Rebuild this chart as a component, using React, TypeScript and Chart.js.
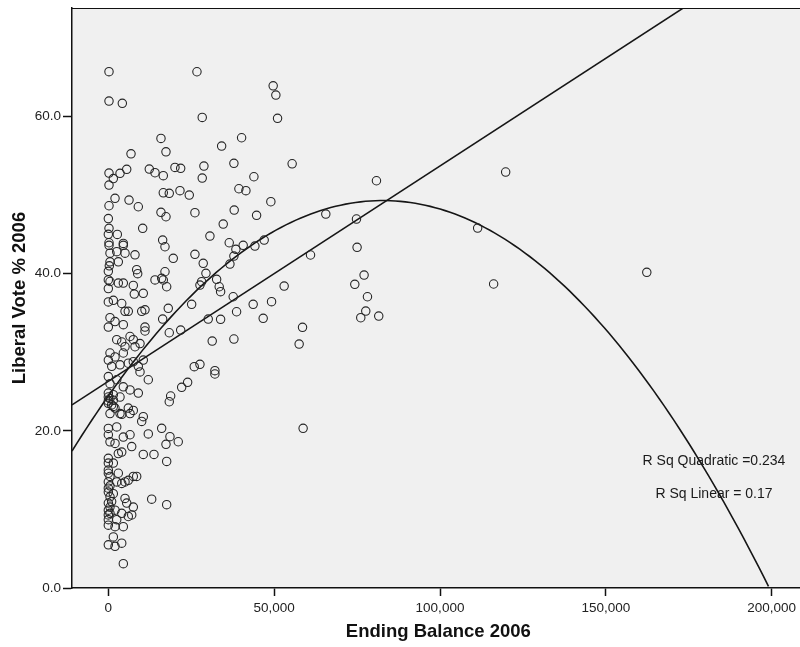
import React, { useEffect, useRef } from "react";
import { Chart, registerables } from "chart.js";

Chart.register(...registerables);

// Ending Balance 2006 (x) and Liberal Vote % 2006 (y)
const balanceUpper = [200, 200, 4217, 15870, 17380, 6837, 200, 5542, 3524, 1506, 200, 12350, 14070, 16570, 2018, 200, 6235, 9036, 16570, 15870, 17380, 200, 2711, 10360, 200, 4518, 16380, 0, 0, 300, 0];
const voteUpper = [65.7, 61.96, 61.67, 57.2, 55.5, 55.25, 52.8, 53.27, 52.76, 52.1, 51.27, 53.3, 52.84, 52.46, 49.58, 48.64, 49.36, 48.51, 50.29, 47.8, 47.24, 45.76, 44.99, 45.76, 43.93, 43.85, 44.27, 47.0, 45.0, 41.0, 40.3];

const balanceMid = [26720, 49700, 50510, 28310, 51020, 40180, 34160, 55420, 37860, 20090, 21810, 28820, 28310, 43890, 39370, 41480, 21600, 18370, 24400, 49000, 37950, 26110, 44700, 34640, 30630, 17080, 36450, 40660, 44190, 46990, 38460, 37860, 26110, 19580];
const voteMid = [65.69, 63.9, 62.72, 59.88, 59.76, 57.29, 56.23, 53.98, 54.03, 53.52, 53.4, 53.69, 52.16, 52.33, 50.8, 50.55, 50.55, 50.22, 50.0, 49.15, 48.09, 47.75, 47.42, 46.31, 44.78, 43.42, 43.93, 43.6, 43.51, 44.27, 43.09, 42.24, 42.46, 41.95];

const balanceLow = [28610, 36660, 17080, 29430, 16570, 28130, 27620, 32650, 33430, 33850, 17590, 53010, 25120, 37650, 18070, 43670, 49210, 38670, 16380, 30120, 33850, 46690, 18370, 21810, 58550, 57530, 31320, 37860, 25900, 27620, 32130, 32130, 23910, 22110, 18790, 18370, 58730, 16080, 18580, 21080, 17380];
const voteLow = [41.31, 41.22, 40.24, 40.04, 39.19, 38.97, 38.55, 39.27, 38.33, 37.7, 38.33, 38.42, 36.09, 37.06, 35.59, 36.09, 36.43, 35.15, 34.22, 34.22, 34.19, 34.31, 32.48, 32.82, 33.17, 31.04, 31.42, 31.68, 28.16, 28.46, 27.65, 27.23, 26.17, 25.53, 24.43, 23.7, 20.32, 20.32, 19.25, 18.61, 18.28];

const balanceRight = [80840, 65570, 74820, 60960, 75000, 77110, 74310, 78130, 77620, 76110, 81530, 111350, 119800, 116170, 162350];
const voteRight = [51.82, 47.58, 46.95, 42.37, 43.35, 39.82, 38.64, 37.06, 35.24, 34.39, 34.6, 45.8, 52.93, 38.68, 40.17];

const balanceColumnA = [200, 4520, 500, 2530, 5030, 8040, 500, 3010, 8550, 8850, 0, 500, 3010, 4520, 7530, 10540, 7830, 14070, 16080, 0, 0, 1510, 4040, 5030, 6020, 10060, 11050, 500, 0, 2020, 4520, 11050, 11050, 2530, 4040, 5030, 6540, 7530, 8040, 9550, 4520, 500, 2020, 0, 1020, 3520, 6020, 7530, 9040, 10540, 9550, 12050, 0, 500, 2530, 4520, 6540, 9040, 0, 1510, 3520, 0, 1510, 500, 3520, 6020, 7530, 6540, 10540, 0, 500, 1000, 1500, 0, 2000];
const voteColumnA = [43.6, 43.6, 42.6, 42.8, 42.6, 42.4, 41.5, 41.5, 40.5, 40.0, 39.2, 39.0, 38.8, 38.8, 38.5, 37.5, 37.4, 39.2, 39.4, 38.1, 36.4, 36.6, 36.2, 35.2, 35.2, 35.2, 35.4, 34.4, 33.2, 33.9, 33.5, 33.2, 32.7, 31.6, 31.3, 30.7, 32.0, 31.6, 30.7, 31.1, 29.9, 29.9, 29.4, 29.0, 28.2, 28.4, 28.6, 28.8, 28.2, 29.0, 27.5, 26.5, 26.9, 26.0, 26.5, 25.6, 25.2, 24.8, 24.3, 23.9, 24.3, 23.5, 23.1, 22.2, 22.2, 22.9, 22.6, 22.2, 21.8, 23.8, 24.1, 23.3, 24.6, 24.8, 22.9];

const balanceColumnB = [4040, 10060, 12050, 0, 0, 2530, 500, 2020, 4520, 6540, 7050, 4040, 10540, 13760, 17590, 0, 0, 0, 500, 0, 0, 1510, 3010, 3010, 2530, 4040, 5030, 6020, 7530, 8550, 500, 0, 5030, 5540, 7530, 6020, 7050, 13070, 17590, 0, 0, 0, 0, 500, 2020, 2530, 4040, 2020, 4520, 1510, 0, 2020, 4040, 4520, 0, 500, 1000, 0, 1500, 500];
const voteColumnB = [22.1, 21.2, 19.6, 20.3, 19.5, 20.5, 18.6, 18.4, 19.2, 19.5, 18.0, 17.3, 17.0, 17.0, 16.1, 16.5, 15.9, 15.0, 14.2, 13.5, 12.7, 15.9, 17.1, 14.6, 13.5, 13.3, 13.5, 13.7, 14.2, 14.2, 11.6, 10.8, 11.4, 10.8, 10.3, 9.1, 9.3, 11.3, 10.6, 9.9, 9.3, 8.7, 8.0, 9.5, 9.9, 8.7, 9.5, 7.8, 7.8, 6.5, 5.5, 5.3, 5.7, 3.1, 12.2, 13.0, 11.0, 14.6, 12.0, 10.3];

// Axis settings and tick labels
const X_MIN = -10955;
const X_MAX = 209960;
const Y_MIN = 0;
const Y_MAX = 73.8;
const xTickValues = [0, 50000, 100000, 150000, 200000];
const yTickValues = [0, 20, 40, 60];

// Fit lines (coefficients)
const LINEAR_B0 = 26.3;
const LINEAR_B1 = 0.000274;
const QUAD_B0 = 24.44;
const QUAD_B1 = 6.008e-4;
const QUAD_B2 = -3.63e-9;
const QUAD_X_END = 200500;
const fitLabels = ["R Sq Quadratic =0.234", "R Sq Linear = 0.17"];

const FONT = "'Liberation Sans', Arial, sans-serif";

function zip(xs: number[], ys: number[]) {
  return xs.map((x, i) => ({ x, y: ys[i] }));
}

function zeroPadding(s: any) {
  s.paddingLeft = 0;
  s.paddingRight = 0;
  s.paddingTop = 0;
  s.paddingBottom = 0;
}

export default function App() {
  const ref = useRef<HTMLCanvasElement | null>(null);

  useEffect(() => {
    if (!ref.current) return;
    const points = [
      ...zip(balanceUpper, voteUpper),
      ...zip(balanceMid, voteMid),
      ...zip(balanceLow, voteLow),
      ...zip(balanceRight, voteRight),
      ...zip(balanceColumnA, voteColumnA),
      ...zip(balanceColumnB, voteColumnB),
    ];
    const linearLine = [X_MIN, X_MAX].map((x) => ({ x, y: LINEAR_B0 + LINEAR_B1 * x }));
    const quadLine: { x: number; y: number }[] = [];
    for (let x = X_MIN; x <= QUAD_X_END; x += 1500) {
      quadLine.push({ x, y: QUAD_B0 + QUAD_B1 * x + QUAD_B2 * x * x });
    }

    const bgPlugin = {
      id: "spssBg",
      beforeDraw(chart: any) {
        const { ctx, chartArea: a } = chart;
        ctx.save();
        ctx.fillStyle = "#f0f0f0";
        ctx.fillRect(a.left, a.top, a.right - a.left, a.bottom - a.top);
        ctx.restore();
      },
      afterDraw(chart: any) {
        const { ctx, chartArea: a } = chart;
        ctx.save();
        ctx.strokeStyle = "#111";
        ctx.lineWidth = 1.2;
        ctx.beginPath();
        ctx.moveTo(a.left, a.top + 0.5);
        ctx.lineTo(a.right, a.top + 0.5);
        ctx.stroke();
        ctx.fillStyle = "#1a1a1a";
        ctx.font = `14px ${FONT}`;
        ctx.textAlign = "center";
        ctx.textBaseline = "middle";
        ctx.fillText(fitLabels[0], 714, 461);
        ctx.fillText(fitLabels[1], 714, 494);
        ctx.restore();
      },
    };

    const chart = new Chart(ref.current, {
      type: "scatter",
      data: {
        datasets: [
          {
            label: "Liberal Vote % 2006",
            data: points,
            pointRadius: 4.2,
            pointBorderWidth: 1.1,
            pointBorderColor: "#262626",
            pointBackgroundColor: "rgba(0,0,0,0)",
            showLine: false,
          },
          {
            label: "Linear",
            data: linearLine,
            showLine: true,
            pointRadius: 0,
            borderColor: "#161616",
            borderWidth: 1.6,
          },
          {
            label: "Quadratic",
            data: quadLine,
            showLine: true,
            pointRadius: 0,
            borderColor: "#161616",
            borderWidth: 1.6,
            tension: 0,
          },
        ],
      },
      options: {
        animation: false,
        responsive: false,
        devicePixelRatio: 1,
        layout: { padding: { top: 8, left: 0, right: 0, bottom: 0 } },
        plugins: { legend: { display: false }, tooltip: { enabled: false } },
        scales: {
          x: {
            type: "linear",
            min: X_MIN,
            max: X_MAX,
            afterBuildTicks: (s: any) => {
              s.ticks = xTickValues.map((v) => ({ value: v }));
            },
            afterFit: (s: any) => {
              s.height = 59;
              zeroPadding(s);
            },
            grid: {
              display: true,
              drawOnChartArea: false,
              drawTicks: true,
              tickLength: 8,
              tickColor: "#111",
              tickWidth: 1.5,
            },
            border: { display: true, color: "#111", width: 1.5 },
            ticks: {
              padding: 4,
              color: "#222",
              font: { family: FONT, size: 13.5 },
              maxRotation: 0,
              autoSkip: false,
              callback: (v: any) => Number(v).toLocaleString("en-US"),
            },
            title: {
              display: true,
              text: "Ending Balance 2006",
              color: "#111",
              font: { family: FONT, size: 18.5, weight: "bold" },
              padding: { top: 0, bottom: 4 },
            },
          },
          y: {
            type: "linear",
            min: Y_MIN,
            max: Y_MAX,
            afterBuildTicks: (s: any) => {
              s.ticks = yTickValues.map((v) => ({ value: v }));
            },
            afterFit: (s: any) => {
              s.width = 72;
              zeroPadding(s);
            },
            grid: {
              display: true,
              drawOnChartArea: false,
              drawTicks: true,
              tickLength: 9,
              tickColor: "#111",
              tickWidth: 1.5,
            },
            border: { display: true, color: "#111", width: 1.5 },
            ticks: {
              padding: 2,
              color: "#222",
              font: { family: FONT, size: 13.5 },
              autoSkip: false,
              callback: (v: any) => Number(v).toFixed(1),
            },
            title: {
              display: true,
              text: "Liberal Vote % 2006",
              color: "#111",
              font: { family: FONT, size: 18.5, weight: "bold" },
              padding: { top: 9, bottom: 0 },
            },
          },
        },
      },
      plugins: [bgPlugin],
    });
    return () => chart.destroy();
  }, []);

  return (
    <div style={{ position: "absolute", left: 0, top: 0, width: 800, height: 647, overflow: "hidden", background: "#fff" }}>
      <canvas ref={ref} width={810} height={647} style={{ display: "block" }} />
    </div>
  );
}
